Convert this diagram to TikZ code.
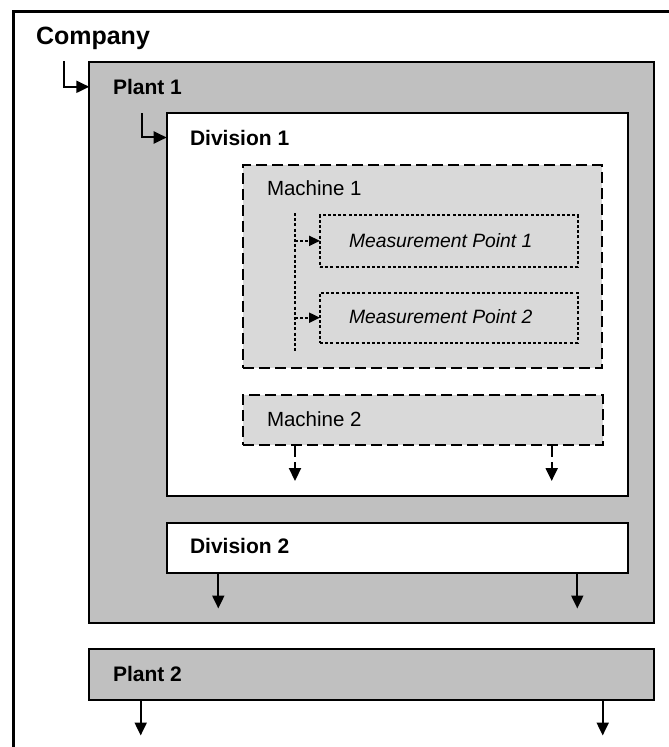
\documentclass[tikz,border=0pt]{standalone}
\usepackage{fontspec}
\setmainfont{Liberation Sans}
\usetikzlibrary{arrows.meta,fit}
\definecolor{plantgray}{RGB}{192,192,192}
\definecolor{machgray}{RGB}{217,217,217}
\begin{document}
\begin{tikzpicture}[x=1pt,y=-1pt,
  boxbase/.style={inner sep=0pt, outer sep=0pt},
  companybox/.style={boxbase, draw, line width=3.5pt},
  plantbox/.style={boxbase, draw, line width=2pt, fill=plantgray},
  divbox/.style={boxbase, draw, line width=2pt, fill=white},
  machbox/.style={boxbase, draw, line width=2.3pt, fill=machgray, dash pattern=on 11pt off 5pt},
  mpbox/.style={boxbase, draw, line width=2pt, dash pattern=on 3pt off 2.2pt},
  lbl/.style={anchor=base west, inner sep=0pt, outer sep=0pt},
  solidarr/.style={line width=2pt, -{Triangle[length=13pt,width=12pt]}},
  dotline/.style={line width=2pt, dash pattern=on 3pt off 2.2pt},
  dotarr/.style={dotline, -{Triangle[length=11pt,width=10pt]}},
  dasharr/.style={line width=2.2pt, dash pattern=on 12pt off 5pt, -{Triangle[length=13pt,width=12pt]}},
]
\clip (0,0) rectangle (669,747);
% boxes
\node[companybox, fit={(13.5,11.5) (720,800)}] (company) {};
\node[plantbox, fit={(89.3,62.3) (654,623.3)}] (p1) {};
\node[divbox, fit={(166.7,113.3) (628.3,495.7)}] (d1) {};
\node[machbox, fit={(243.3,165) (601.7,368.3)}] (m1) {};
\node[mpbox, fit={(320,215) (577.7,266.7)}] (mp1) {};
\node[mpbox, fit={(320,292.7) (577.7,342.7)}] (mp2) {};
\node[machbox, fit={(243.3,395) (602.7,445)}] (m2) {};
\node[divbox, fit={(166.7,522.7) (628.3,572.7)}] (d2) {};
\node[plantbox, fit={(89.3,649.3) (654,700)}] (p2) {};
% labels
\node[lbl, font=\fontsize{25}{30}\selectfont\bfseries] (companylbl) at (36,44.5) {Company};
\node[lbl, font=\fontsize{21}{25}\selectfont\bfseries] (p1lbl) at (113,94.3) {Plant 1};
\node[lbl, font=\fontsize{21}{25}\selectfont\bfseries] (d1lbl) at (190,145) {Division 1};
\node[lbl, font=\fontsize{20.5}{24}\selectfont] (m1lbl) at (267,195.5) {Machine 1};
\node[lbl, font=\fontsize{19.3}{23}\selectfont\itshape] (mp1lbl) at (349,247) {Measurement Point 1};
\node[lbl, font=\fontsize{19.3}{23}\selectfont\itshape] (mp2lbl) at (349,323.5) {Measurement Point 2};
\node[lbl, font=\fontsize{20.5}{24}\selectfont] (m2lbl) at (267,426) {Machine 2};
\node[lbl, font=\fontsize{21}{25}\selectfont\bfseries] (d2lbl) at (190,553.5) {Division 2};
\node[lbl, font=\fontsize{21}{25}\selectfont\bfseries] (p2lbl) at (113,681.7) {Plant 2};
% connectors
\coordinate (cp) at (64,61);
\coordinate (pd) at (141.7,113.3);
\draw[solidarr] (cp) |- (p1lbl.west -| p1.west);
\draw[solidarr] (pd) |- (d1lbl.west -| d1.west);
\coordinate (vt) at (295,213);
\coordinate (vb) at (295,352);
\draw[dotline] (vt) -- (vb);
\draw[dotarr] (vt |- mp1.west) -- (mp1.west);
\draw[dotarr] (vt |- mp2.west) -- (mp2.west);
\coordinate (m2a) at (295,481);
\coordinate (m2b) at (551.7,481);
\draw[dasharr] (m2a |- m2.south) -- (m2a);
\draw[dasharr] (m2b |- m2.south) -- (m2b);
\coordinate (d2a) at (218.3,608.5);
\coordinate (d2b) at (577.3,608.5);
\draw[solidarr] (d2a |- d2.south) -- (d2a);
\draw[solidarr] (d2b |- d2.south) -- (d2b);
\coordinate (p2a) at (140.7,735.5);
\coordinate (p2b) at (602.7,735.5);
\draw[solidarr] (p2a |- p2.south) -- (p2a);
\draw[solidarr] (p2b |- p2.south) -- (p2b);
\end{tikzpicture}
\end{document}
